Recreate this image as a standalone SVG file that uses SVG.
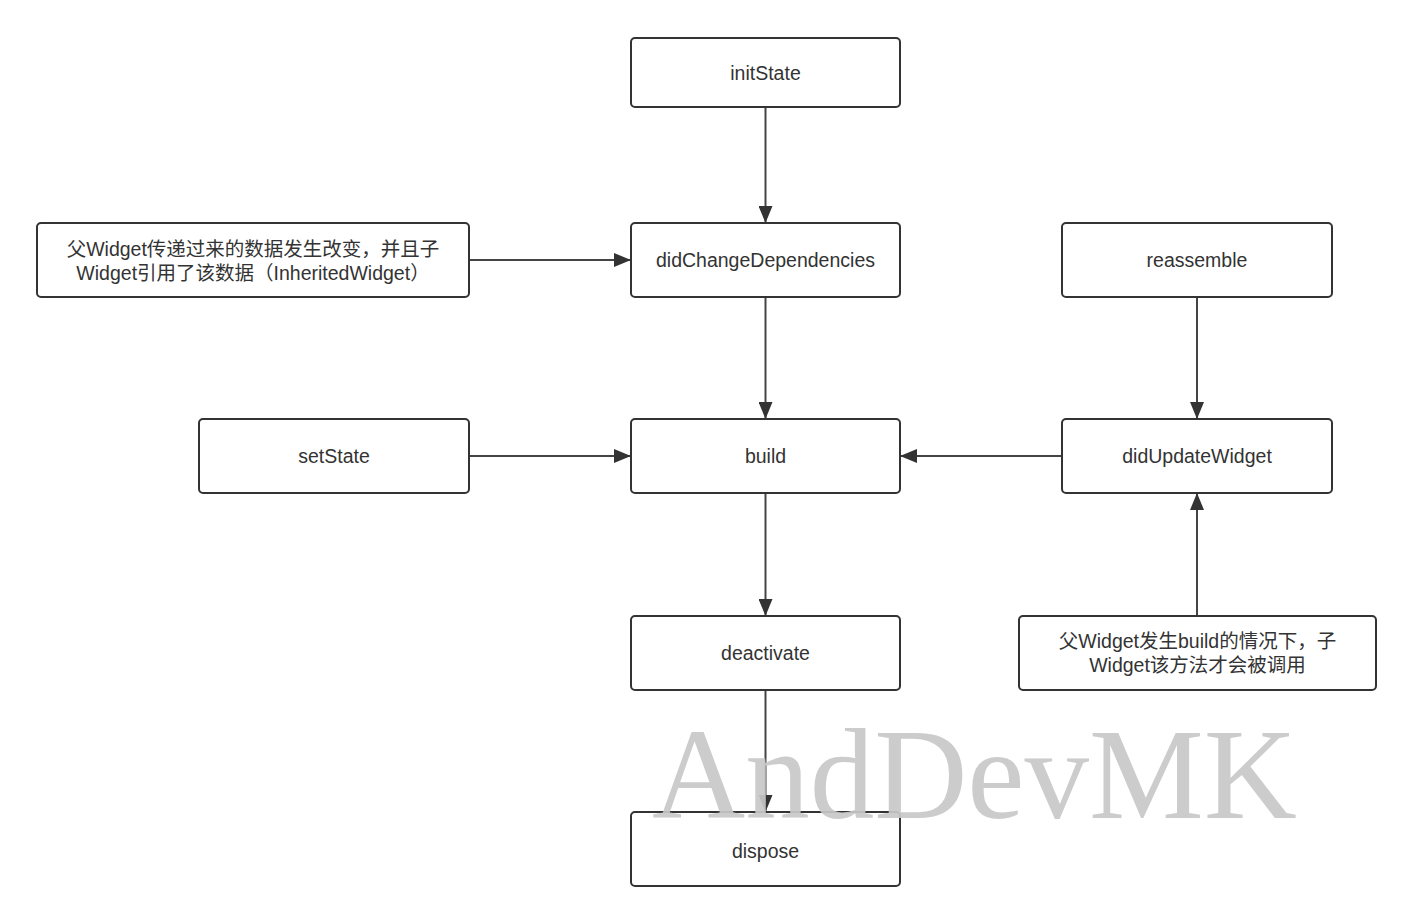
<svg xmlns="http://www.w3.org/2000/svg" width="1414" height="924" viewBox="0 0 1414 924">
<style>
.box{fill:#fff;stroke:#333;stroke-width:2}
.t{font-family:"Liberation Sans","Noto Sans CJK SC",sans-serif;font-size:19.5px;fill:#333;text-anchor:middle}
.c{stroke:#444;stroke-width:2;fill:none;marker-end:url(#arr)}
.wm{font-family:"Liberation Serif","DejaVu Serif",serif;font-size:129px;fill:#c8c8c8;fill-opacity:0.92}
</style>
<defs>
<marker id="arr" markerUnits="userSpaceOnUse" markerWidth="18" markerHeight="14" refX="17" refY="7" orient="auto">
<path d="M0,0 L17,7 L0,14 Z" fill="#333"/>
</marker>
</defs>
<rect width="1414" height="924" fill="#fff"/>
<g id="connectors">
<line class="c" x1="765.5" y1="107" x2="765.5" y2="223"/>
<line class="c" x1="469" y1="260" x2="631" y2="260"/>
<line class="c" x1="765.5" y1="297" x2="765.5" y2="419"/>
<line class="c" x1="469" y1="456" x2="631" y2="456"/>
<line class="c" x1="1062" y1="456" x2="900" y2="456"/>
<line class="c" x1="1197" y1="297" x2="1197" y2="419"/>
<line class="c" x1="1197" y1="616" x2="1197" y2="493"/>
<line class="c" x1="765.5" y1="493" x2="765.5" y2="616"/>
<line class="c" x1="765.5" y1="690" x2="765.5" y2="812"/>
</g>
<g id="initState"><rect class="box" x="631" y="38" width="269" height="69" rx="4"/><text class="t" x="765.5" y="80">initState</text></g>
<g id="didChangeDependencies"><rect class="box" x="631" y="223" width="269" height="74" rx="4"/><text class="t" x="765.5" y="267">didChangeDependencies</text></g>
<g id="note1"><rect class="box" x="37" y="223" width="432" height="74" rx="4"/><text class="t" x="253" y="256">父Widget传递过来的数据发生改变，并且子</text><text class="t" x="253" y="280">Widget引用了该数据（InheritedWidget）</text></g>
<g id="reassemble"><rect class="box" x="1062" y="223" width="270" height="74" rx="4"/><text class="t" x="1197" y="267">reassemble</text></g>
<g id="setState"><rect class="box" x="199" y="419" width="270" height="74" rx="4"/><text class="t" x="334" y="463">setState</text></g>
<g id="build"><rect class="box" x="631" y="419" width="269" height="74" rx="4"/><text class="t" x="765.5" y="463">build</text></g>
<g id="didUpdateWidget"><rect class="box" x="1062" y="419" width="270" height="74" rx="4"/><text class="t" x="1197" y="463">didUpdateWidget</text></g>
<g id="deactivate"><rect class="box" x="631" y="616" width="269" height="74" rx="4"/><text class="t" x="765.5" y="660">deactivate</text></g>
<g id="note2"><rect class="box" x="1019" y="616" width="357" height="74" rx="4"/><text class="t" x="1197.5" y="648">父Widget发生build的情况下，子</text><text class="t" x="1197.5" y="672">Widget该方法才会被调用</text></g>
<g id="dispose"><rect class="box" x="631" y="812" width="269" height="74" rx="4"/><text class="t" x="765.5" y="858">dispose</text></g>
<text class="wm" x="652" y="818">AndDevMK</text>
</svg>
